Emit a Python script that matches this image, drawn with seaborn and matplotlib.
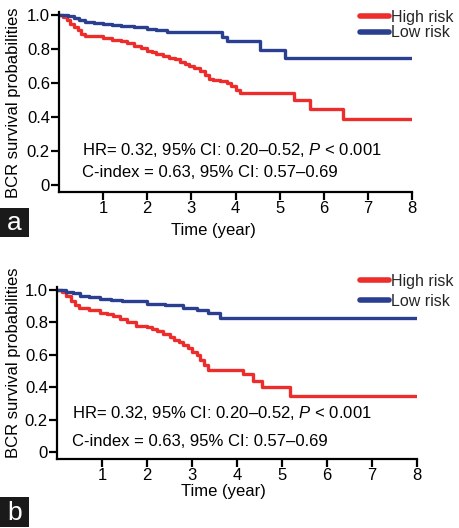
import matplotlib
matplotlib.use("Agg")
import matplotlib.pyplot as plt
import seaborn as sns
import pandas as pd
from matplotlib.lines import Line2D
from matplotlib.patches import Rectangle

# ---------------- data ----------------
a_high_t = [0, 0.1, 0.18, 0.26, 0.34, 0.42, 0.5, 0.58, 1.0, 1.2, 1.4, 1.55, 1.7, 1.85, 2.0, 2.1, 2.2,
            2.35, 2.5, 2.62, 2.75, 2.85, 2.95, 3.05, 3.2, 3.3, 3.4, 3.5, 3.65, 3.8, 3.9, 4.0, 4.1,
            5.32, 5.68, 6.43, 8.0]
a_high_s = [1.0, 0.99, 0.97, 0.95, 0.93, 0.91, 0.89, 0.875, 0.865, 0.855, 0.845, 0.835, 0.82, 0.805,
            0.79, 0.78, 0.77, 0.76, 0.75, 0.74, 0.725, 0.71, 0.70, 0.69, 0.67, 0.645, 0.625, 0.62,
            0.61, 0.60, 0.585, 0.56, 0.54, 0.50, 0.45, 0.39, 0.39]
a_low_t = [0, 0.2, 0.35, 0.45, 0.6, 0.8, 1.0, 1.2, 1.4, 1.7, 2.0, 2.2, 2.45, 3.7, 3.8, 4.55, 5.12, 8.0]
a_low_s = [1.0, 0.995, 0.985, 0.97, 0.96, 0.955, 0.945, 0.94, 0.935, 0.93, 0.92, 0.91, 0.90, 0.87,
           0.845, 0.795, 0.75, 0.75]

b_high_t = [0, 0.1, 0.2, 0.3, 0.4, 0.48, 0.7, 0.96, 1.1, 1.24, 1.4, 1.56, 1.75, 2.0, 2.12, 2.22, 2.35,
            2.5, 2.6, 2.7, 2.8, 2.9, 3.0, 3.1, 3.18, 3.26, 3.36, 4.13, 4.36, 4.56, 5.18, 8.0]
b_high_s = [1.0, 0.985, 0.96, 0.935, 0.91, 0.89, 0.875, 0.86, 0.85, 0.84, 0.82, 0.80, 0.78, 0.77,
            0.76, 0.75, 0.73, 0.71, 0.695, 0.68, 0.66, 0.64, 0.62, 0.60, 0.57, 0.54, 0.51, 0.48,
            0.44, 0.40, 0.35, 0.35]
b_low_t = [0, 0.2, 0.35, 0.5, 0.7, 0.95, 1.2, 1.45, 1.7, 2.0, 2.4, 2.8, 3.1, 3.35, 3.62, 8.0]
b_low_s = [1.0, 0.99, 0.98, 0.965, 0.955, 0.945, 0.94, 0.935, 0.93, 0.915, 0.905, 0.89, 0.875,
           0.86, 0.83, 0.83]

groups = ["High risk", "Low risk"]
x_ticks = [1, 2, 3, 4, 5, 6, 7, 8]
y_ticks = [0, 0.2, 0.4, 0.6, 0.8, 1.0]
y_ticklabels = ["0", "0.2", "0.4", "0.6", "0.8", "1.0"]
hr_text = "HR= 0.32, 95% CI: 0.20\u20130.52, $\\mathit{P}$ < 0.001"
ci_text = "C-index = 0.63, 95% CI: 0.57\u20130.69"
panel_labels = ["a", "b"]

RED = "#EC2D2B"
BLUE = "#2B3F90"
palette = {"High risk": RED, "Low risk": BLUE}

# ---------------- style ----------------
sns.set_theme(style="ticks")
plt.rcParams["font.family"] = ["Liberation Sans", "DejaVu Sans"]
plt.rcParams["mathtext.fontset"] = "custom"
plt.rcParams["mathtext.rm"] = "Liberation Sans"
plt.rcParams["mathtext.it"] = "Liberation Sans:italic"
FS = 12

W, H = 459, 528
fig = plt.figure(figsize=(W / 100, H / 100), dpi=100)


def fx(px):
    return px / W


def fy(py):
    return 1 - py / H


def make_df(ht, hs, lt, ls):
    d1 = pd.DataFrame({"time": ht, "surv": hs, "group": groups[0]})
    d2 = pd.DataFrame({"time": lt, "surv": ls, "group": groups[1]})
    return pd.concat([d1, d2], ignore_index=True)


panels = [
    dict(df=make_df(a_high_t, a_high_s, a_low_t, a_low_s),
         rect=(59, 412, 11.6, 192), text_x=0.52, hr_y=0.206, ci_y=0.076,
         leg=(360, 10), legsp=0.02, ylab_y=103, xlab=(213, 223), box=(0, 208, 29, 237)),
    dict(df=make_df(b_high_t, b_high_s, b_low_t, b_low_s),
         rect=(57, 417, 286.7, 459), text_x=0.33, hr_y=0.245, ci_y=0.067,
         leg=(360, 274), legsp=0.3, ylab_y=363, xlab=(223, 484), box=(0, 497, 29, 527)),
]

for i, p in enumerate(panels):
    l, r, t, b = p["rect"]
    ax = fig.add_axes([fx(l), fy(b), fx(r) - fx(l), fy(t) - fy(b)])
    sns.lineplot(data=p["df"], x="time", y="surv", hue="group", palette=palette,
                 drawstyle="steps-post", estimator=None, sort=False, lw=2.4,
                 legend=False, ax=ax)
    ax.set_xlim(0, 8)
    ax.set_ylim(-0.04, 1.02)
    ax.set_xticks(x_ticks)
    ax.set_xticklabels([str(v) for v in x_ticks], fontsize=FS)
    ax.set_yticks(y_ticks)
    ax.set_yticklabels(y_ticklabels, fontsize=FS)
    for side in ["top", "right"]:
        ax.spines[side].set_visible(False)
    for side in ["left", "bottom"]:
        ax.spines[side].set_linewidth(1.6)
        ax.spines[side].set_color("black")
    ax.tick_params(axis="both", direction="out", length=6, width=1.6, colors="black",
                   labelsize=FS, pad=0.5)
    ax.set_ylabel("BCR survival probabilities", fontsize=FS, color="black")
    ax.yaxis.set_label_coords(fx(21), fy(p["ylab_y"]), transform=fig.transFigure)
    ax.set_xlabel("Time (year)", fontsize=FS, color="black")
    ax.xaxis.set_label_coords(fx(p["xlab"][0]), fy(p["xlab"][1]), transform=fig.transFigure)

    ax.text(p["text_x"], p["hr_y"], hr_text, fontsize=FS, va="center", ha="left", color="black")
    ax.text(p["text_x"], p["ci_y"], ci_text, fontsize=FS, va="center", ha="left", color="black")

    handles = [Line2D([0], [0], color=palette[g], lw=4, solid_capstyle="round") for g in groups]
    ax.legend(handles, groups, loc="upper left",
              bbox_to_anchor=(fx(p["leg"][0]), fy(p["leg"][1])),
              bbox_transform=fig.transFigure, frameon=False, fontsize=11.5,
              handlelength=1.8, handletextpad=0.15, labelspacing=p["legsp"],
              borderpad=0, borderaxespad=0)

    x0, y0, x1, y1 = p["box"]
    fig.patches.append(Rectangle((fx(x0), fy(y1)), fx(x1) - fx(x0), fy(y0) - fy(y1),
                                 transform=fig.transFigure, facecolor="#1a1a1a",
                                 edgecolor="none", zorder=5))
    fig.text(fx((x0 + x1) / 2), fy((y0 + y1) / 2 + 1), panel_labels[i], color="white",
             fontsize=19, ha="center", va="center", zorder=6)

fig.savefig("out.png", dpi=100, facecolor="white")
